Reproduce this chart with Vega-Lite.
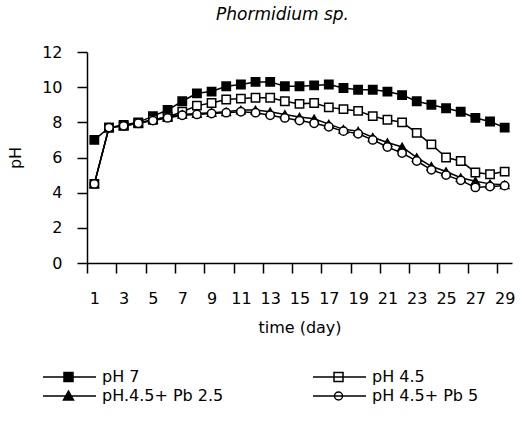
{
  "$schema": "https://vega.github.io/schema/vega-lite/v6.json",
  "width": 425,
  "height": 211,
  "padding": {"left": 7, "top": 6, "right": 4, "bottom": 4},
  "background": "white",
  "config": {
    "font": "DejaVu Sans",
    "view": {"stroke": null},
    "axis": {"grid": false, "domainColor": "black", "tickColor": "black", "labelColor": "black", "titleColor": "black", "labelFont": "DejaVu Sans", "titleFont": "DejaVu Sans", "labelFontSize": 16, "titleFontSize": 16, "titleFontWeight": "normal", "domainWidth": 1.5, "tickWidth": 1.5}
  },
  "title": {"text": "Phormidium sp.", "fontStyle": "italic", "fontWeight": "normal", "fontSize": 17, "font": "DejaVu Sans", "color": "black", "offset": 20, "dx": -17},
  "data": {"values": [
    {"day":1,"s":"pH 7","o":1,"pH":7.0},{"day":2,"s":"pH 7","o":1,"pH":7.7},{"day":3,"s":"pH 7","o":1,"pH":7.85},{"day":4,"s":"pH 7","o":1,"pH":8.0},{"day":5,"s":"pH 7","o":1,"pH":8.35},{"day":6,"s":"pH 7","o":1,"pH":8.7},{"day":7,"s":"pH 7","o":1,"pH":9.2},{"day":8,"s":"pH 7","o":1,"pH":9.65},{"day":9,"s":"pH 7","o":1,"pH":9.75},{"day":10,"s":"pH 7","o":1,"pH":10.05},{"day":11,"s":"pH 7","o":1,"pH":10.15},{"day":12,"s":"pH 7","o":1,"pH":10.3},{"day":13,"s":"pH 7","o":1,"pH":10.3},{"day":14,"s":"pH 7","o":1,"pH":10.05},{"day":15,"s":"pH 7","o":1,"pH":10.05},{"day":16,"s":"pH 7","o":1,"pH":10.1},{"day":17,"s":"pH 7","o":1,"pH":10.15},{"day":18,"s":"pH 7","o":1,"pH":9.95},{"day":19,"s":"pH 7","o":1,"pH":9.85},{"day":20,"s":"pH 7","o":1,"pH":9.85},{"day":21,"s":"pH 7","o":1,"pH":9.75},{"day":22,"s":"pH 7","o":1,"pH":9.55},{"day":23,"s":"pH 7","o":1,"pH":9.2},{"day":24,"s":"pH 7","o":1,"pH":9.0},{"day":25,"s":"pH 7","o":1,"pH":8.8},{"day":26,"s":"pH 7","o":1,"pH":8.6},{"day":27,"s":"pH 7","o":1,"pH":8.25},{"day":28,"s":"pH 7","o":1,"pH":8.05},{"day":29,"s":"pH 7","o":1,"pH":7.7},
    {"day":1,"s":"pH 4.5","o":2,"pH":4.5},{"day":2,"s":"pH 4.5","o":2,"pH":7.7},{"day":3,"s":"pH 4.5","o":2,"pH":7.8},{"day":4,"s":"pH 4.5","o":2,"pH":7.95},{"day":5,"s":"pH 4.5","o":2,"pH":8.15},{"day":6,"s":"pH 4.5","o":2,"pH":8.3},{"day":7,"s":"pH 4.5","o":2,"pH":8.6},{"day":8,"s":"pH 4.5","o":2,"pH":8.95},{"day":9,"s":"pH 4.5","o":2,"pH":9.1},{"day":10,"s":"pH 4.5","o":2,"pH":9.3},{"day":11,"s":"pH 4.5","o":2,"pH":9.35},{"day":12,"s":"pH 4.5","o":2,"pH":9.4},{"day":13,"s":"pH 4.5","o":2,"pH":9.4},{"day":14,"s":"pH 4.5","o":2,"pH":9.2},{"day":15,"s":"pH 4.5","o":2,"pH":9.05},{"day":16,"s":"pH 4.5","o":2,"pH":9.1},{"day":17,"s":"pH 4.5","o":2,"pH":8.85},{"day":18,"s":"pH 4.5","o":2,"pH":8.75},{"day":19,"s":"pH 4.5","o":2,"pH":8.65},{"day":20,"s":"pH 4.5","o":2,"pH":8.35},{"day":21,"s":"pH 4.5","o":2,"pH":8.15},{"day":22,"s":"pH 4.5","o":2,"pH":8.0},{"day":23,"s":"pH 4.5","o":2,"pH":7.4},{"day":24,"s":"pH 4.5","o":2,"pH":6.75},{"day":25,"s":"pH 4.5","o":2,"pH":6.0},{"day":26,"s":"pH 4.5","o":2,"pH":5.8},{"day":27,"s":"pH 4.5","o":2,"pH":5.15},{"day":28,"s":"pH 4.5","o":2,"pH":5.05},{"day":29,"s":"pH 4.5","o":2,"pH":5.2},
    {"day":1,"s":"pH.4.5+ Pb 2.5","o":3,"pH":4.5},{"day":2,"s":"pH.4.5+ Pb 2.5","o":3,"pH":7.7},{"day":3,"s":"pH.4.5+ Pb 2.5","o":3,"pH":7.8},{"day":4,"s":"pH.4.5+ Pb 2.5","o":3,"pH":7.95},{"day":5,"s":"pH.4.5+ Pb 2.5","o":3,"pH":8.15},{"day":6,"s":"pH.4.5+ Pb 2.5","o":3,"pH":8.3},{"day":7,"s":"pH.4.5+ Pb 2.5","o":3,"pH":8.45},{"day":8,"s":"pH.4.5+ Pb 2.5","o":3,"pH":8.5},{"day":9,"s":"pH.4.5+ Pb 2.5","o":3,"pH":8.55},{"day":10,"s":"pH.4.5+ Pb 2.5","o":3,"pH":8.6},{"day":11,"s":"pH.4.5+ Pb 2.5","o":3,"pH":8.7},{"day":12,"s":"pH.4.5+ Pb 2.5","o":3,"pH":8.7},{"day":13,"s":"pH.4.5+ Pb 2.5","o":3,"pH":8.6},{"day":14,"s":"pH.4.5+ Pb 2.5","o":3,"pH":8.45},{"day":15,"s":"pH.4.5+ Pb 2.5","o":3,"pH":8.3},{"day":16,"s":"pH.4.5+ Pb 2.5","o":3,"pH":8.2},{"day":17,"s":"pH.4.5+ Pb 2.5","o":3,"pH":7.9},{"day":18,"s":"pH.4.5+ Pb 2.5","o":3,"pH":7.6},{"day":19,"s":"pH.4.5+ Pb 2.5","o":3,"pH":7.5},{"day":20,"s":"pH.4.5+ Pb 2.5","o":3,"pH":7.15},{"day":21,"s":"pH.4.5+ Pb 2.5","o":3,"pH":6.85},{"day":22,"s":"pH.4.5+ Pb 2.5","o":3,"pH":6.6},{"day":23,"s":"pH.4.5+ Pb 2.5","o":3,"pH":6.0},{"day":24,"s":"pH.4.5+ Pb 2.5","o":3,"pH":5.5},{"day":25,"s":"pH.4.5+ Pb 2.5","o":3,"pH":5.2},{"day":26,"s":"pH.4.5+ Pb 2.5","o":3,"pH":4.85},{"day":27,"s":"pH.4.5+ Pb 2.5","o":3,"pH":4.65},{"day":28,"s":"pH.4.5+ Pb 2.5","o":3,"pH":4.5},{"day":29,"s":"pH.4.5+ Pb 2.5","o":3,"pH":4.45},
    {"day":1,"s":"pH 4.5+ Pb 5","o":4,"pH":4.5},{"day":2,"s":"pH 4.5+ Pb 5","o":4,"pH":7.7},{"day":3,"s":"pH 4.5+ Pb 5","o":4,"pH":7.8},{"day":4,"s":"pH 4.5+ Pb 5","o":4,"pH":7.95},{"day":5,"s":"pH 4.5+ Pb 5","o":4,"pH":8.1},{"day":6,"s":"pH 4.5+ Pb 5","o":4,"pH":8.25},{"day":7,"s":"pH 4.5+ Pb 5","o":4,"pH":8.4},{"day":8,"s":"pH 4.5+ Pb 5","o":4,"pH":8.45},{"day":9,"s":"pH 4.5+ Pb 5","o":4,"pH":8.5},{"day":10,"s":"pH 4.5+ Pb 5","o":4,"pH":8.55},{"day":11,"s":"pH 4.5+ Pb 5","o":4,"pH":8.6},{"day":12,"s":"pH 4.5+ Pb 5","o":4,"pH":8.55},{"day":13,"s":"pH 4.5+ Pb 5","o":4,"pH":8.4},{"day":14,"s":"pH 4.5+ Pb 5","o":4,"pH":8.25},{"day":15,"s":"pH 4.5+ Pb 5","o":4,"pH":8.1},{"day":16,"s":"pH 4.5+ Pb 5","o":4,"pH":7.95},{"day":17,"s":"pH 4.5+ Pb 5","o":4,"pH":7.75},{"day":18,"s":"pH 4.5+ Pb 5","o":4,"pH":7.5},{"day":19,"s":"pH 4.5+ Pb 5","o":4,"pH":7.35},{"day":20,"s":"pH 4.5+ Pb 5","o":4,"pH":7.0},{"day":21,"s":"pH 4.5+ Pb 5","o":4,"pH":6.6},{"day":22,"s":"pH 4.5+ Pb 5","o":4,"pH":6.25},{"day":23,"s":"pH 4.5+ Pb 5","o":4,"pH":5.8},{"day":24,"s":"pH 4.5+ Pb 5","o":4,"pH":5.3},{"day":25,"s":"pH 4.5+ Pb 5","o":4,"pH":5.0},{"day":26,"s":"pH 4.5+ Pb 5","o":4,"pH":4.7},{"day":27,"s":"pH 4.5+ Pb 5","o":4,"pH":4.3},{"day":28,"s":"pH 4.5+ Pb 5","o":4,"pH":4.35},{"day":29,"s":"pH 4.5+ Pb 5","o":4,"pH":4.4}
  ]},
  "encoding": {
    "x": {"field": "day", "type": "quantitative", "scale": {"domain": [0.5, 29.5], "nice": false, "zero": false},
      "axis": {"values": [0.5,1,2.5,3,4.5,5,6.5,7,8.5,9,10.5,11,12.5,13,14.5,15,16.5,17,18.5,19,20.5,21,22.5,23,24.5,25,26.5,27,28.5,29],
        "labelExpr": "datum.value % 1 === 0 ? '' + datum.value : ''", "labelOverlap": false, "labelBound": false, "labelFlush": false,
        "tickSize": 10, "tickOpacity": {"condition": {"test": "datum.value % 1 === 0", "value": 0}, "value": 1},
        "labelPadding": 17, "title": "time (day)", "titlePadding": 13}},
    "y": {"field": "pH", "type": "quantitative", "scale": {"domain": [0, 12], "nice": false},
      "axis": {"values": [0,2,4,6,8,10,12], "tickSize": 10, "labelPadding": 15, "title": "pH", "titlePadding": 18}}
  },
  "layer": [
    {"mark": {"type": "line", "color": "black", "strokeWidth": 1.5},
     "encoding": {"detail": {"field": "s"}, "order": {"field": "day"}}},
    {"mark": {"type": "point", "filled": false, "stroke": "black", "strokeWidth": 1.5, "opacity": 1, "size": 70},
     "encoding": {
       "order": {"field": "o"},
       "shape": {"field": "o", "type": "nominal",
         "scale": {"domain": [1, 2, 3, 4], "range": ["square", "square", "triangle-up", "circle"]}, "legend": null},
       "fill": {"field": "s", "type": "nominal",
         "scale": {"domain": ["pH 7", "pH 4.5", "pH.4.5+ Pb 2.5", "pH 4.5+ Pb 5"], "range": ["black", "white", "black", "white"]},
         "legend": {"orient": "none", "legendX": -47, "legendY": 317, "columns": 2, "title": null, "direction": "horizontal",
           "symbolSize": 100, "labelOffset": 46, "columnPadding": 86, "rowPadding": 3, "labelFontSize": 16, "labelFont": "DejaVu Sans", "labelColor": "black", "labelLimit": 300,
           "symbolType": {"expr": "datum.value === 'pH 7' || datum.value === 'pH 4.5' ? 'M-1,0H9.6M3.2,-0.9H5V0.9H3.2Z' : datum.value === 'pH.4.5+ Pb 2.5' ? 'M-1,0H9.6M4.1,-1L5.1,0.8H3.1Z' : 'M-1,0H9.6M3.3,0A0.8,0.8 0 1,0 4.9,0A0.8,0.8 0 1,0 3.3,0Z'"},
           "symbolStrokeColor": "black", "symbolStrokeWidth": 1.5, "symbolOpacity": 1}}
     }}
  ]
}
